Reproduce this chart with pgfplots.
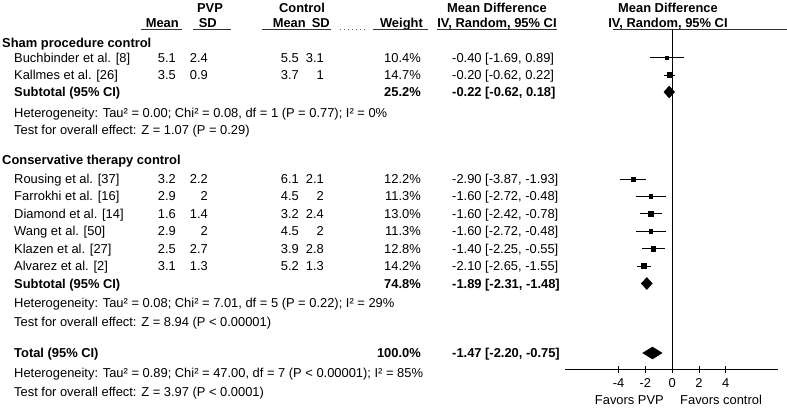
\documentclass[border=0pt]{standalone}
\usepackage{fontspec}
\setmainfont{Liberation Sans}
\usepackage{pgfplots}
\usepackage{pgfplotstable}
\pgfplotsset{compat=1.18}

% studies: y = -(row position), estimate, 95% CI, weight (%)
\pgfplotstableread{
y      est    lo     hi     w
-57.5  -0.40  -1.69  0.89   10.4
-75    -0.20  -0.62  0.22   14.7
-179   -2.90  -3.87  -1.93  12.2
-196.4 -1.60  -2.72  -0.48  11.3
-213.8 -1.60  -2.42  -0.78  13.0
-231.2 -1.60  -2.72  -0.48  11.3
-248.6 -1.40  -2.25  -0.55  12.8
-266   -2.10  -2.65  -1.55  14.2
}\studies

\newcommand{\fs}{\fontsize{12.9}{14}\selectfont}

\begin{document}
\begin{tikzpicture}[every node/.style={font=\fs, inner sep=0pt}]
\begin{scope}[x=1pt,y=-1pt]
\useasboundingbox (0,0) rectangle (787,407);
\tikzset{L/.style={anchor=base west}, R/.style={anchor=base east}, C/.style={anchor=base}}

% header
\node[C] at (210,12.5) {\bfseries PVP};
\node[C] at (302,12.5) {\bfseries Control};
\node[C] at (497,12.5) {\bfseries Mean Difference};
\node[C] at (668,12.5) {\bfseries Mean Difference};
\node[R] at (179,27.5) {\bfseries Mean};
\node[R] at (217,27.5) {\bfseries SD};
\node[R] at (306,27.5) {\bfseries Mean};
\node[R] at (330,27.5) {\bfseries SD};
\node[R] at (423,27.5) {\bfseries Weight};
\node[C] at (497,27.5) {\bfseries IV, Random, 95\% CI};
\node[C] at (668,27.5) {\bfseries IV, Random, 95\% CI};
\draw[line width=1pt, black!80] (141,29.5) -- (182,29.5) (193,29.5) -- (231,29.5)
  (262,29.5) -- (331,29.5) (373,29.5) -- (428,29.5) (437,29.5) -- (557,29.5)
  (613,29.5) -- (787,29.5);
\draw[line width=1pt, black!60, dash pattern=on 1pt off 3pt] (340,29.5) -- (368,29.5);

% sham
\node[L] at (2,47) {\bfseries Sham procedure control};
\node[L] at (14,62) {Buchbinder et al. [8]};
\node[R] at (176,62) {5.1}; \node[R] at (208,62) {2.4};
\node[R] at (299,62) {5.5}; \node[R] at (324,62) {3.1};
\node[R] at (421,62) {10.4\%}; \node[L] at (452,62) {-0.40 [-1.69, 0.89]};
\node[L] at (14,79.5) {Kallmes et al. [26]};
\node[R] at (176,79.5) {3.5}; \node[R] at (208,79.5) {0.9};
\node[R] at (299,79.5) {3.7}; \node[R] at (324,79.5) {1};
\node[R] at (421,79.5) {14.7\%}; \node[L] at (452,79.5) {-0.20 [-0.62, 0.22]};
\node[L] at (14,96.5) {\bfseries Subtotal (95\% CI)};
\node[R] at (421,96.5) {\bfseries 25.2\%}; \node[L] at (452,96.5) {\bfseries -0.22 [-0.62, 0.18]};
\node[L] at (14,117.5) {Heterogeneity: Tau² = 0.00; Chi² = 0.08, df = 1 (P = 0.77); I² = 0\%};
\node[L] at (14,134.5) {Test for overall effect: Z = 1.07 (P = 0.29)};

% conservative
\node[L] at (2,164.5) {\bfseries Conservative therapy control};
\foreach \yy/\nm/\a/\b/\c/\d/\w/\ci in {
  183.5/Rousing et al. [37]/3.2/2.2/6.1/2.1/12.2/{-2.90 [-3.87, -1.93]},
  200.9/Farrokhi et al. [16]/2.9/2/4.5/2/11.3/{-1.60 [-2.72, -0.48]},
  218.3/Diamond et al. [14]/1.6/1.4/3.2/2.4/13.0/{-1.60 [-2.42, -0.78]},
  235.7/Wang et al. [50]/2.9/2/4.5/2/11.3/{-1.60 [-2.72, -0.48]},
  253.1/Klazen et al. [27]/2.5/2.7/3.9/2.8/12.8/{-1.40 [-2.25, -0.55]},
  270.5/Alvarez et al. [2]/3.1/1.3/5.2/1.3/14.2/{-2.10 [-2.65, -1.55]}}{
  \node[L] at (14,\yy) {\nm};
  \node[R] at (176,\yy) {\a}; \node[R] at (208,\yy) {\b};
  \node[R] at (299,\yy) {\c}; \node[R] at (324,\yy) {\d};
  \node[R] at (421,\yy) {\w\%}; \node[L] at (452,\yy) {\ci};
}
\node[L] at (14,288) {\bfseries Subtotal (95\% CI)};
\node[R] at (421,288) {\bfseries 74.8\%}; \node[L] at (452,288) {\bfseries -1.89 [-2.31, -1.48]};
\node[L] at (14,307.5) {Heterogeneity: Tau² = 0.08; Chi² = 7.01, df = 5 (P = 0.22); I² = 29\%};
\node[L] at (14,326.5) {Test for overall effect: Z = 8.94 (P < 0.00001)};

% total
\node[L] at (14,357.5) {\bfseries Total (95\% CI)};
\node[R] at (421,357.5) {\bfseries 100.0\%}; \node[L] at (452,357.5) {\bfseries -1.47 [-2.20, -0.75]};
\node[L] at (14,377.5) {Heterogeneity: Tau² = 0.89; Chi² = 47.00, df = 7 (P < 0.00001); I² = 85\%};
\node[L] at (14,396.5) {Test for overall effect: Z = 3.97 (P < 0.0001)};

\node[R] at (664,404) {Favors PVP};
\node[L] at (680,404) {Favors control};
\end{scope}

\begin{axis}[
  scale only axis, width=213pt, height=340pt,
  anchor=south west, at={(565pt,-369pt)},
  xmin=-8, xmax=7.9, ymin=-369, ymax=-29,
  axis x line=bottom, axis y line=none, axis line style={-, black, line width=0.8pt},
  xtick={-4,-2,0,2,4}, xticklabels={-4,-2,0,2,4},
  tick align=center, major tick length=7pt, tick style={black, line width=0.8pt},
  xticklabel style={font=\fs, inner sep=0pt, anchor=north, yshift=-6pt},
  clip=false,
]
\addplot[black, line width=0.8pt] coordinates {(0,-29) (0,-369)};
\addplot[scatter, only marks, mark=square*,
  scatter/use mapped color={draw=black, fill=black},
  visualization depends on={\thisrow{w}/6 \as \msz},
  scatter/@pre marker code/.append style={/tikz/mark size=\msz},
  error bars/.cd, x dir=both, x explicit, error mark=none,
  error bar style={black, line width=0.8pt}]
  table[x=est, y=y, x error plus expr=\thisrow{hi}-\thisrow{est},
        x error minus expr=\thisrow{est}-\thisrow{lo}] {\studies};
% pooled diamonds
\addplot[fill=black, draw=black] coordinates {(-0.62,-92) (-0.22,-86) (0.18,-92) (-0.22,-98)} --cycle;
\addplot[fill=black, draw=black] coordinates {(-2.31,-283.5) (-1.89,-277.5) (-1.48,-283.5) (-1.89,-289.5)} --cycle;
\addplot[fill=black, draw=black] coordinates {(-2.20,-353) (-1.47,-347) (-0.75,-353) (-1.47,-359)} --cycle;
\end{axis}
\end{tikzpicture}
\end{document}
